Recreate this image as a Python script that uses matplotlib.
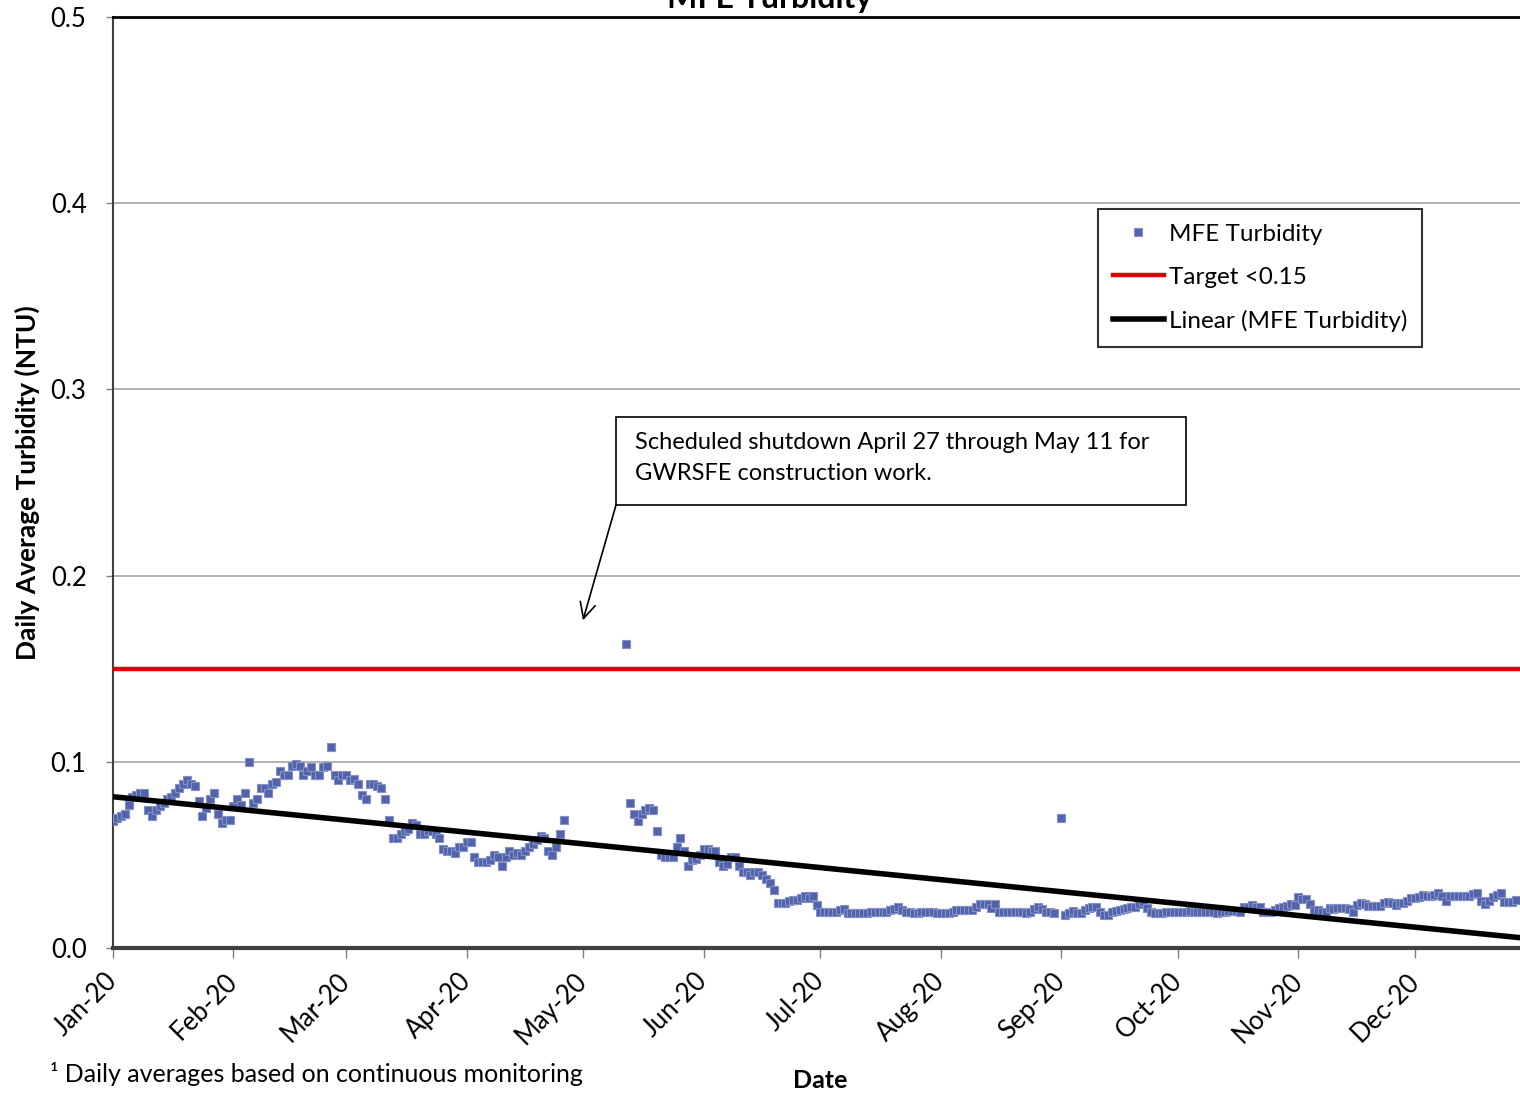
import numpy as np
import pandas as pd
import matplotlib
matplotlib.use("Agg")
import matplotlib.pyplot as plt
import matplotlib.dates as mdates
from matplotlib.patches import Rectangle

plt.rcParams['font.family'] = ['Lato', 'DejaVu Sans']

# daily average MFE turbidity (NTU), one list per month of 2020, None = no data
jan = [0.068, 0.070, 0.071, 0.072, 0.077, 0.081, 0.082, 0.083, 0.083, 0.074,
       0.071, 0.074, 0.076, 0.078, 0.080, 0.081, 0.083, 0.086, 0.088, 0.090,
       0.088, 0.087, 0.079, 0.071, 0.075, 0.080, 0.083, 0.072, 0.067, 0.069,
       0.069]
feb = [0.076, 0.080, 0.077, 0.083, 0.100, 0.078, 0.080, 0.086, 0.086, 0.083,
       0.088, 0.089, 0.095, 0.093, 0.093, 0.098, 0.099, 0.098, 0.093, 0.095,
       0.097, 0.093, 0.093, 0.097, 0.098, 0.108, 0.093, 0.090, 0.093]
mar = [0.093, 0.090, 0.091, 0.088, 0.082, 0.080, 0.088, 0.088, 0.087, 0.086,
       0.080, 0.069, 0.059, 0.059, 0.061, 0.063, 0.064, 0.067, 0.066, 0.061,
       0.061, 0.063, 0.063, 0.061, 0.059, 0.053, 0.052, 0.052, 0.051, 0.054,
       0.054]
apr = [0.057, 0.057, 0.049, 0.046, 0.046, 0.046, 0.047, 0.050, 0.049, 0.044,
       0.049, 0.052, 0.050, 0.051, 0.050, 0.052, 0.054, 0.056, 0.058, 0.060,
       0.059, 0.052, 0.050, 0.054, 0.061, 0.069, None, None, None, None]
may = [None, None, None, None, None, None, None, None, None, None,
       None, 0.163, 0.078, 0.072, 0.068, 0.072, 0.074, 0.075, 0.074, 0.063,
       0.050, 0.049, 0.049, 0.049, 0.054, 0.059, 0.052, 0.044, 0.047, 0.048,
       0.050]
jun = [0.053, 0.053, 0.052, 0.052, 0.046, 0.044, 0.045, 0.049, 0.049, 0.044,
       0.041, 0.041, 0.039, 0.041, 0.041, 0.039, 0.037, 0.035, 0.031, 0.024,
       0.024, 0.024, 0.025, 0.026, 0.026, 0.027, 0.028, 0.027, 0.028, 0.023]
jul = [0.0195, 0.0195, 0.0195, 0.0195, 0.0195, 0.0204, 0.0208, 0.0186, 0.0186, 0.0186,
       0.0186, 0.0186, 0.0186, 0.0195, 0.0195, 0.0195, 0.0195, 0.0195, 0.0204, 0.0209,
       0.0218, 0.0204, 0.0195, 0.0195, 0.0186, 0.0186, 0.0195, 0.0195, 0.0195, 0.0195,
       0.0186]
aug = [0.0186, 0.0186, 0.0186, 0.0195, 0.0204, 0.0204, 0.0204, 0.0204, 0.0204, 0.0218,
       0.0236, 0.0236, 0.0236, 0.0213, 0.0236, 0.0195, 0.0195, 0.0195, 0.0195, 0.0195,
       0.0195, 0.0195, 0.0186, 0.0195, 0.0208, 0.0218, 0.0208, 0.0195, 0.0195, 0.0186,
       None]
sep = [0.0698, 0.0177, 0.0186, 0.0200, 0.0190, 0.0186, 0.0204, 0.0213, 0.0222, 0.0218,
       0.0195, 0.0177, 0.0177, 0.0195, 0.0200, 0.0204, 0.0208, 0.0213, 0.0218, 0.0222,
       0.0236, 0.0245, 0.0215, 0.0195, 0.0186, 0.0186, 0.0186, 0.0195, 0.0195, 0.0195]
oct_ = [0.0195, 0.0195, 0.0195, 0.0200, 0.0195, 0.0195, 0.0195, 0.0195, 0.0195, 0.0192,
        0.0186, 0.0195, 0.0195, 0.0200, 0.0200, 0.0200, 0.0192, 0.0218, 0.0222, 0.0231,
        0.0222, 0.0222, 0.0195, 0.0195, 0.0195, 0.0204, 0.0213, 0.0222, 0.0226, 0.0236,
        0.0231]
nov = [0.0272, 0.0261, 0.0261, 0.0236, 0.0204, 0.0204, 0.0195, 0.0195, 0.0213, 0.0208,
       0.0213, 0.0213, 0.0213, 0.0208, 0.0195, 0.0231, 0.0240, 0.0236, 0.0226, 0.0226,
       0.0226, 0.0226, 0.0240, 0.0249, 0.0243, 0.0231, 0.0240, 0.0243, 0.0254, 0.0267]
dec = [0.0267, 0.0276, 0.0285, 0.0279, 0.0279, 0.0285, 0.0297, 0.0279, 0.0254, 0.0279,
       0.0279, 0.0279, 0.0279, 0.0279, 0.0279, 0.0290, 0.0297, 0.0254, 0.0236, 0.0254,
       0.0276, 0.0285, 0.0297, 0.0249, 0.0249, 0.0249, 0.0258]

target = 0.15
y_ticks = [0.0, 0.1, 0.2, 0.3, 0.4, 0.5]
note = "Scheduled shutdown April 27 through May 11 for\nGWRSFE construction work."

values = jan + feb + mar + apr + may + jun + jul + aug + sep + oct_ + nov + dec
turb = np.array([np.nan if v is None else v for v in values])
dates = pd.date_range("2020-01-01", periods=len(turb), freq="D")
x0, x1 = pd.Timestamp("2020-01-01"), pd.Timestamp("2020-12-28")

fig = plt.figure(figsize=(15.2, 10.96), dpi=100)
ax = fig.add_axes([113 / 1520, 148 / 1096, 1407 / 1520, 931 / 1096])

# linear trend of the daily values
xn = mdates.date2num(dates)
ok = ~np.isnan(turb)
slope, icpt = np.polyfit(xn[ok], turb[ok], 1)
xl = np.array([mdates.date2num(x0), mdates.date2num(x1)])

ax.plot(dates, turb, ls='none', marker='s', ms=5.5, mfc='#5363aa', mec='#8491c9',
        mew=0.8, label='MFE Turbidity', zorder=4)
ax.plot([x0, x1], [target, target], color='#dd0000', lw=3.2, label='Target <0.15', zorder=3)
ax.plot(mdates.num2date(xl), slope * xl + icpt, color='black', lw=4,
        label='Linear (MFE Turbidity)', zorder=5)

ax.set_xlim(x0, x1)
ax.set_ylim(0, 0.5)
ax.set_yticks(y_ticks)
ax.yaxis.set_major_formatter(plt.FormatStrFormatter('%.1f'))
ax.yaxis.grid(True, color='#a6a6a6', lw=1.2)
ax.set_axisbelow(True)

ax.xaxis.set_major_locator(mdates.MonthLocator())
ax.xaxis.set_major_formatter(mdates.DateFormatter('%b-%y'))
for lab in ax.get_xticklabels():
    lab.set_rotation(45)
    lab.set_ha('right')
    lab.set_va('center')
    lab.set_rotation_mode('anchor')

ax.tick_params(axis='x', length=7, width=1, color='#808080', labelsize=18.5, pad=14)
ax.tick_params(axis='y', length=5, width=1, color='#808080', labelsize=18.5, pad=14)

ax.spines['right'].set_visible(False)
ax.spines['top'].set_linewidth(2)
ax.spines['left'].set_color('#404040')
ax.spines['left'].set_linewidth(1.5)
ax.spines['bottom'].set_color('#404040')
ax.spines['bottom'].set_linewidth(3)

# annotation box and arrow
ax.add_patch(Rectangle((0.3575, 0.4758), 0.4051, 0.0946, transform=ax.transAxes,
                       fill=True, fc='white', ec='black', lw=1.2, zorder=6))
ax.text(0.371, 0.5263, note, transform=ax.transAxes, fontsize=17, va='center',
        ha='left', linespacing=1.62, zorder=7)
ax.annotate('', xy=(0.334, 0.352), xycoords='axes fraction',
            xytext=(0.3575, 0.4758), textcoords='axes fraction',
            arrowprops=dict(arrowstyle='->', color='black', lw=1.2,
                            mutation_scale=28, shrinkA=0, shrinkB=0))

leg = ax.legend(loc='upper left', bbox_to_anchor=(0.700, 0.794), borderaxespad=0,
                fontsize=17.5, frameon=True, fancybox=False, edgecolor='black',
                handlelength=2.1, handletextpad=0.2, labelspacing=0.9,
                borderpad=0.62, markerscale=1.0)
leg.get_frame().set_linewidth(1.5)
leg.set_zorder(8)

fig.text(770 / 1520, 1 - 8 / 1096, 'MFE Turbidity', ha='center', va='baseline',
         fontsize=23, fontweight='bold')
fig.text(27 / 1520, 1 - 483 / 1096, 'Daily Average Turbidity (NTU)', rotation=90,
         ha='center', va='center', fontsize=19, fontweight='bold')
fig.text(820 / 1520, 1 - 1081 / 1096, 'Date', ha='center', va='center',
         fontsize=18, fontweight='bold')
fig.text(50 / 1520, 1 - 1074 / 1096, '\u00b9 Daily averages based on continuous monitoring',
         ha='left', va='center', fontsize=18)

fig.savefig('out.png', dpi=100)
